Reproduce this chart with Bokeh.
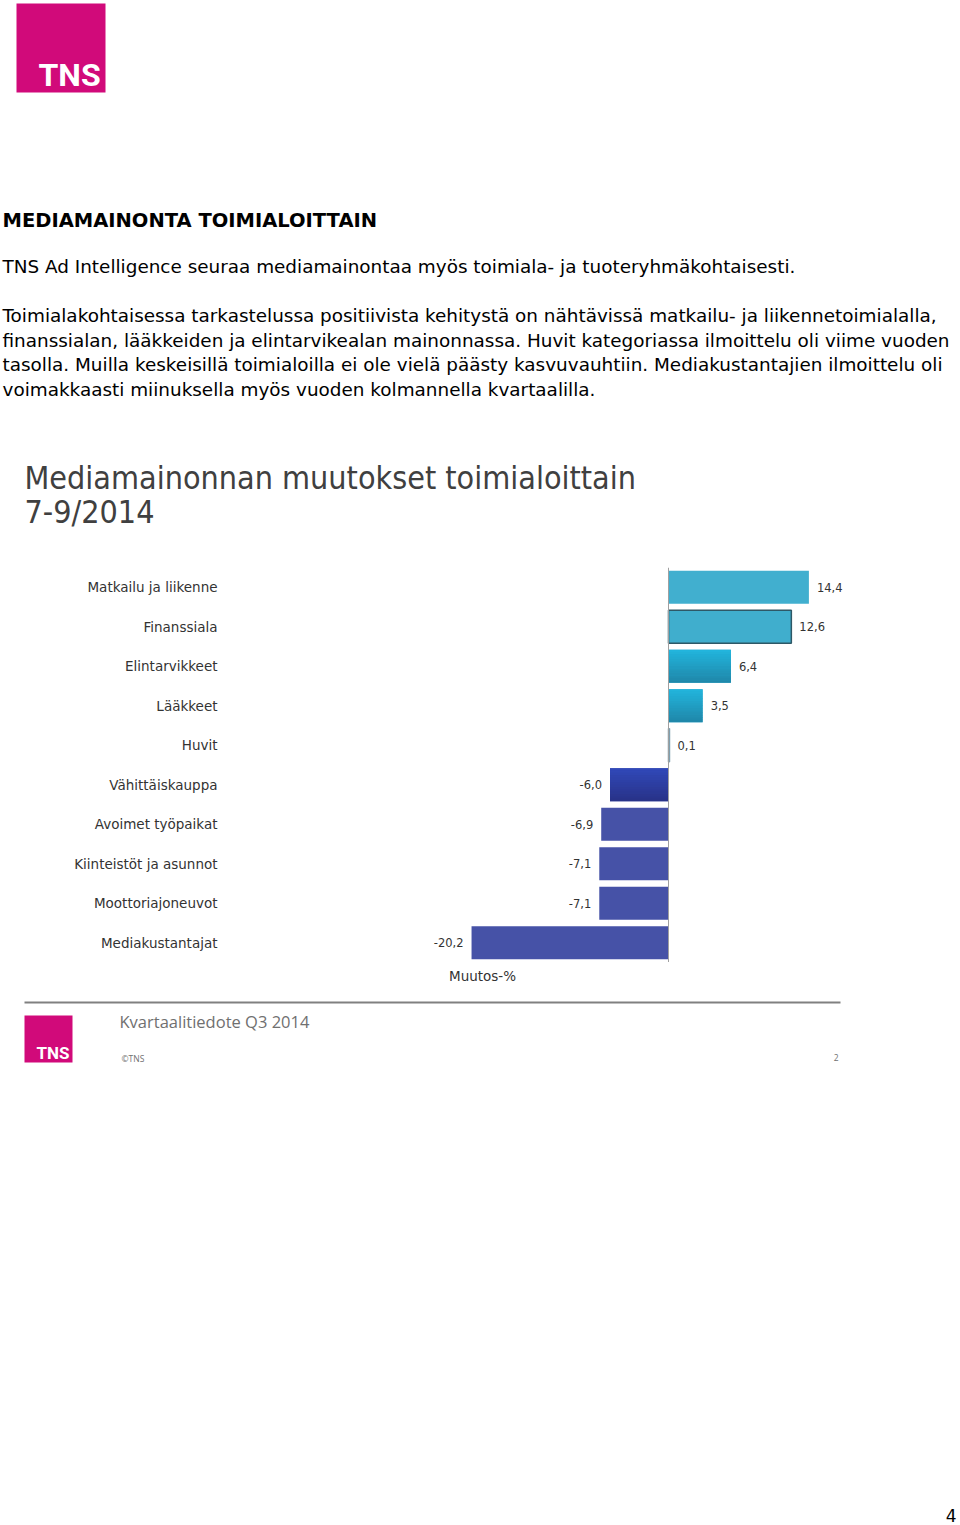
from bokeh.plotting import figure
from bokeh.layouts import column
from bokeh.models import Range1d, FactorRange, ColumnDataSource, Span
from bokeh.transform import dodge
from bokeh.embed import file_html
from bokeh.resources import INLINE
from bokeh.core.properties import value

# ---------------- data ----------------
categories = ["Matkailu ja liikenne", "Finanssiala", "Elintarvikkeet", "Lääkkeet", "Huvit",
              "Vähittäiskauppa", "Avoimet työpaikat", "Kiinteistöt ja asunnot",
              "Moottoriajoneuvot", "Mediakustantajat"]
changes = [14.4, 12.6, 6.4, 3.5, 0.1, -6.0, -6.9, -7.1, -7.1, -20.2]
bar_colors = ["#41AFCF", "#40AECD", "#22A6CE", "#22A6CE", "#41AFCF",
              "#2F42A8", "#4652A7", "#4652A7", "#4652A7", "#4652A7"]
bar_lines = [None, "#2E5866", None, None, "#7F9FAF", None, None, None, None, None]
# vertical colour gradient (top colour, bottom colour) for the shaded bars
gradients = {"Elintarvikkeet": ("#22B6DE", "#1F86A8"),
             "Lääkkeet": ("#22B6DE", "#1F86A8"),
             "Vähittäiskauppa": ("#3149BA", "#283287")}

heading = "MEDIAMAINONTA TOIMIALOITTAIN"
intro = "TNS Ad Intelligence seuraa mediamainontaa myös toimiala- ja tuoteryhmäkohtaisesti."
paragraph_lines = [
    "Toimialakohtaisessa tarkastelussa positiivista kehitystä on nähtävissä matkailu- ja liikennetoimialalla,",
    "finanssialan, lääkkeiden ja elintarvikealan mainonnassa. Huvit kategoriassa ilmoittelu oli viime vuoden",
    "tasolla. Muilla keskeisillä toimialoilla ei ole vielä päästy kasvuvauhtiin. Mediakustantajien ilmoittelu oli",
    "voimakkaasti miinuksella myös vuoden kolmannella kvartaalilla.",
]
chart_title_lines = ["Mediamainonnan muutokset toimialoittain", "7-9/2014"]
axis_title = "Muutos-%"
footer_title = "Kvartaalitiedote Q3 2014"
footer_copy = "©TNS"
slide_number = "2"
page_number = "4"
logo_text = "TNS"

MAGENTA = "#D10A7A"
W = 960
BODY_FONT = value("DejaVu Sans")
LOGO_FONT = value("Roboto")


def page_fig(top, bottom):
    p = figure(width=W, height=bottom - top,
               x_range=Range1d(0, W), y_range=Range1d(bottom, top),
               x_axis_location=None, y_axis_location=None,
               toolbar_location=None, output_backend="svg",
               min_border=0, outline_line_color=None, title=None)
    p.grid.visible = False
    return p


def mix(c1, c2, t):
    a = [int(c1[i:i + 2], 16) for i in (1, 3, 5)]
    b = [int(c2[i:i + 2], 16) for i in (1, 3, 5)]
    return "#%02x%02x%02x" % tuple(round(a[k] + (b[k] - a[k]) * t) for k in range(3))


# ---------------- header (page y 0..567) ----------------
pa = page_fig(0, 567)
pa.quad(left=[16], right=[105], top=[3], bottom=[92], fill_color=MAGENTA, line_color=None)
pa.text(x=[38], y=[74], text=[logo_text], text_font=LOGO_FONT,
        text_font_style="bold", text_font_size="32px", text_color="white",
        text_baseline="middle", text_align="left")
pa.text(x=[2], y=[220], text=[heading], text_font=BODY_FONT, text_font_style="bold",
        text_font_size="19.5px", text_color="#000000", text_baseline="middle")
pa.text(x=[2], y=[266], text=[intro], text_font=BODY_FONT,
        text_font_size="18.4px", text_color="#000000", text_baseline="middle")
pa.text(x=[2] * len(paragraph_lines), y=[315 + 24.5 * i for i in range(len(paragraph_lines))],
        text=paragraph_lines, text_font=BODY_FONT,
        text_font_size="18.4px", text_color="#000000", text_baseline="middle")
pa.text(x=[24, 24], y=[477, 511], text=chart_title_lines, text_font=value("DejaVu Sans Condensed"),
        text_font_size="32px", text_color="#404040", text_baseline="middle")

# ---------------- bar chart (page y 567..962) ----------------
px_per_unit = 9.75
zero_x = 668
label_right = 217
bar_h = 0.83
x_start = -zero_x / px_per_unit
x_end = (W - zero_x) / px_per_unit

pb = figure(width=W, height=395,
            y_range=FactorRange(factors=list(reversed(categories))),
            x_range=Range1d(x_start, x_end),
            x_axis_location=None, y_axis_location=None,
            toolbar_location=None, output_backend="svg",
            min_border=0, outline_line_color=None, title=None)
pb.grid.visible = False

labels = [f"{v:.1f}".replace(".", ",") for v in changes]
src = ColumnDataSource(dict(cat=categories, val=changes, color=bar_colors,
                            line=[c if c else "rgba(0,0,0,0)" for c in bar_lines],
                            lab=labels, zero=[0] * len(changes)))
pb.hbar(y="cat", left=0, right="val", height=bar_h, fill_color="color", line_color="line",
        line_width=1.5, source=src)

# gradient shading drawn as thin strips over the shaded bars
g_idx = [i for i, c in enumerate(categories) if c in gradients]
n_strips = 14
strip_h = bar_h / n_strips
for k in range(n_strips):
    t = (k + 0.5) / n_strips
    off = bar_h / 2 - (k + 0.5) * strip_h
    gsrc = ColumnDataSource(dict(cat=[categories[i] for i in g_idx],
                                 val=[changes[i] for i in g_idx],
                                 color=[mix(gradients[categories[i]][0], gradients[categories[i]][1], t)
                                        for i in g_idx]))
    pb.hbar(y=dodge("cat", off, range=pb.y_range), left=0, right="val", height=strip_h * 1.15,
            fill_color="color", line_color=None, source=gsrc)

# category names, right-aligned left of the chart
pb.text(x="zero", y="cat", text="cat", source=src, x_offset=-(zero_x - label_right),
        text_align="right", text_baseline="middle", text_font=BODY_FONT,
        text_font_size="13.5px", text_color="#333333")

pos = [i for i, v in enumerate(changes) if v >= 0]
neg = [i for i, v in enumerate(changes) if v < 0]
src_pos = ColumnDataSource(dict(cat=[categories[i] for i in pos], val=[changes[i] for i in pos],
                                lab=[labels[i] for i in pos]))
src_neg = ColumnDataSource(dict(cat=[categories[i] for i in neg], val=[changes[i] for i in neg],
                                lab=[labels[i] for i in neg]))
pb.text(x="val", y="cat", text="lab", source=src_pos, x_offset=8, text_align="left",
        text_baseline="middle", text_font=BODY_FONT, text_font_size="11.5px", text_color="#333333")
pb.text(x="val", y="cat", text="lab", source=src_neg, x_offset=-8, text_align="right",
        text_baseline="middle", text_font=BODY_FONT, text_font_size="11.5px", text_color="#333333")
pb.add_layout(Span(location=0, dimension="height", line_color="#A0A0A0", line_width=1))

# ---------------- footer (page y 962..1525) ----------------
pc = page_fig(962, 1525)
pc.text(x=[482], y=[975], text=[axis_title], text_font=BODY_FONT, text_font_size="13.5px",
        text_color="#333333", text_align="center", text_baseline="middle")
pc.segment(x0=[24], y0=[1002], x1=[840], y1=[1002], line_color="#808080", line_width=2)
pc.quad(left=[24], right=[72], top=[1015], bottom=[1062], fill_color=MAGENTA, line_color=None)
pc.text(x=[36], y=[1052], text=[logo_text], text_font=LOGO_FONT,
        text_font_style="bold", text_font_size="17px", text_color="white",
        text_baseline="middle")
pc.text(x=[119], y=[1021], text=[footer_title], text_font=value("Open Sans"),
        text_font_size="16.5px", text_color="#707070", text_baseline="middle")
pc.text(x=[121], y=[1058], text=[footer_copy], text_font=value("Open Sans"),
        text_font_size="8.5px", text_color="#707070", text_baseline="middle")
pc.text(x=[838], y=[1057], text=[slide_number], text_font=value("Open Sans"),
        text_font_size="8.5px", text_color="#707070", text_baseline="middle", text_align="right")
pc.text(x=[956], y=[1515], text=[page_number], text_font=BODY_FONT,
        text_font_size="17px", text_color="#000000", text_baseline="middle", text_align="right")

layout = column(pa, pb, pc, spacing=0)
open("out.html", "w").write(file_html(layout, INLINE))
